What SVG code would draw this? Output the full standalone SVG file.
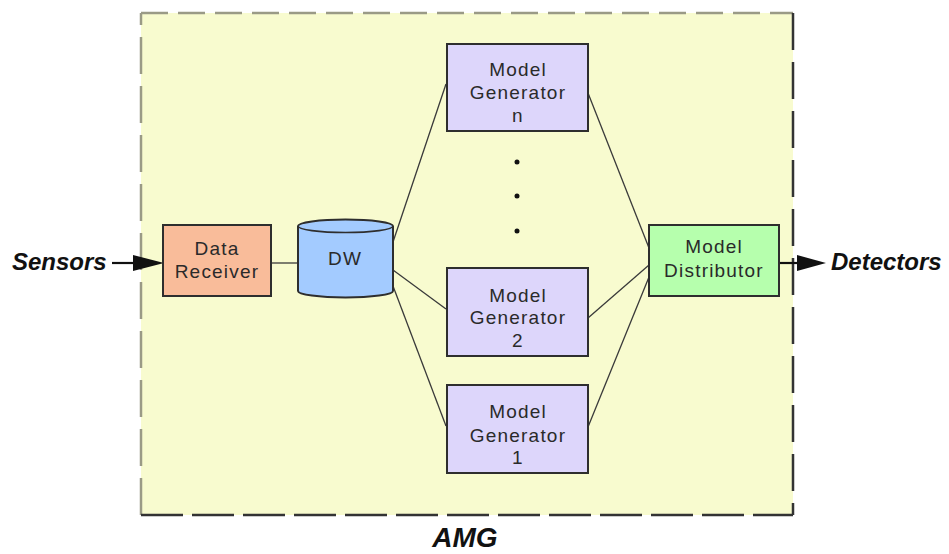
<svg xmlns="http://www.w3.org/2000/svg" width="949" height="554" viewBox="0 0 949 554">
  <style>
    .box { stroke: #2e2e2e; stroke-width: 2; }
    .lbl { font-family: "Liberation Sans", Arial, sans-serif; font-size: 19px; letter-spacing: 1.2px; fill: #2a2a2a; text-anchor: middle; }
    .io { font-family: "Liberation Sans", Arial, sans-serif; font-weight: bold; font-style: italic; fill: #111; }
    .wire { fill: none; stroke: #3a3a3a; stroke-width: 1.3; }
    .flow { fill: none; stroke: #111; stroke-width: 2.2; }
    .head { fill: #111; }
    .gen { fill: #ddd6fb; }
  </style>

  <!-- AMG boundary -->
  <g id="amg">
    <rect x="141" y="13" width="652" height="502" fill="#f8fbcf"/>
    <path d="M141,515 L141,13" fill="none" stroke="#9a9a86" stroke-width="2.5" stroke-dasharray="37 12"/>
    <path d="M141,13 L793,13" fill="none" stroke="#9a9a86" stroke-width="2.5" stroke-dasharray="27 10"/>
    <path d="M793,13 L793,515" fill="none" stroke="#333" stroke-width="2.5" stroke-dasharray="37 12"/>
    <path d="M141,515 L793,515" fill="none" stroke="#333" stroke-width="2.5" stroke-dasharray="42 9"/>
    <text class="io" x="465" y="547" font-size="28" text-anchor="middle">AMG</text>
  </g>

  <!-- connectors -->
  <g id="connectors">
    <path class="wire" d="M271,263 L298,263"/>
    <path class="wire" d="M393,242 L446,84"/>
    <path class="wire" d="M393,270 L446,309"/>
    <path class="wire" d="M393,286 L446,426"/>
    <path class="wire" d="M588,93 L649,248"/>
    <path class="wire" d="M588,318 L649,265"/>
    <path class="wire" d="M588,427 L649,277"/>
    <path class="flow" d="M112,263 L136,263"/>
    <polygon class="head" points="133,255 164,263 133,271"/>
    <path class="flow" d="M779,263 L800,263"/>
    <polygon class="head" points="797,255 826,263 797,271"/>
  </g>

  <g id="sensors">
    <text class="io" x="12" y="270" font-size="24">Sensors</text>
  </g>

  <g id="detectors">
    <text class="io" x="831" y="270" font-size="24">Detectors</text>
  </g>

  <g id="data-receiver">
    <rect class="box" x="163" y="225" width="108" height="71" fill="#f9bc9a"/>
    <text class="lbl" x="217" y="255">Data</text>
    <text class="lbl" x="217" y="278">Receiver</text>
  </g>

  <g id="dw">
    <path class="box" fill="#a3cbff" d="M298,226 L298,291 A47.5,6.5 0 0 0 393,291 L393,226 A47.5,6.5 0 0 0 298,226 Z"/>
    <path fill="none" stroke="#2e2e2e" stroke-width="1.6" d="M298,226 A47.5,6.5 0 0 0 393,226"/>
    <text class="lbl" x="345" y="265">DW</text>
  </g>

  <g id="model-generator-n">
    <rect class="box gen" x="447" y="44" width="141" height="87"/>
    <text class="lbl" x="518" y="76">Model</text>
    <text class="lbl" x="518" y="99">Generator</text>
    <text class="lbl" x="518" y="122">n</text>
  </g>

  <g id="ellipsis">
    <circle cx="517" cy="162" r="2.5" fill="#111"/>
    <circle cx="517" cy="196" r="2.5" fill="#111"/>
    <circle cx="517" cy="231" r="2.5" fill="#111"/>
  </g>

  <g id="model-generator-2">
    <rect class="box gen" x="447" y="268" width="141" height="88"/>
    <text class="lbl" x="518" y="302">Model</text>
    <text class="lbl" x="518" y="324">Generator</text>
    <text class="lbl" x="518" y="347">2</text>
  </g>

  <g id="model-generator-1">
    <rect class="box gen" x="447" y="385" width="141" height="88"/>
    <text class="lbl" x="518" y="418">Model</text>
    <text class="lbl" x="518" y="442">Generator</text>
    <text class="lbl" x="518" y="464">1</text>
  </g>

  <g id="model-distributor">
    <rect class="box" x="649" y="225" width="130" height="71" fill="#b6ffad"/>
    <text class="lbl" x="714" y="253">Model</text>
    <text class="lbl" x="714" y="277">Distributor</text>
  </g>
</svg>
